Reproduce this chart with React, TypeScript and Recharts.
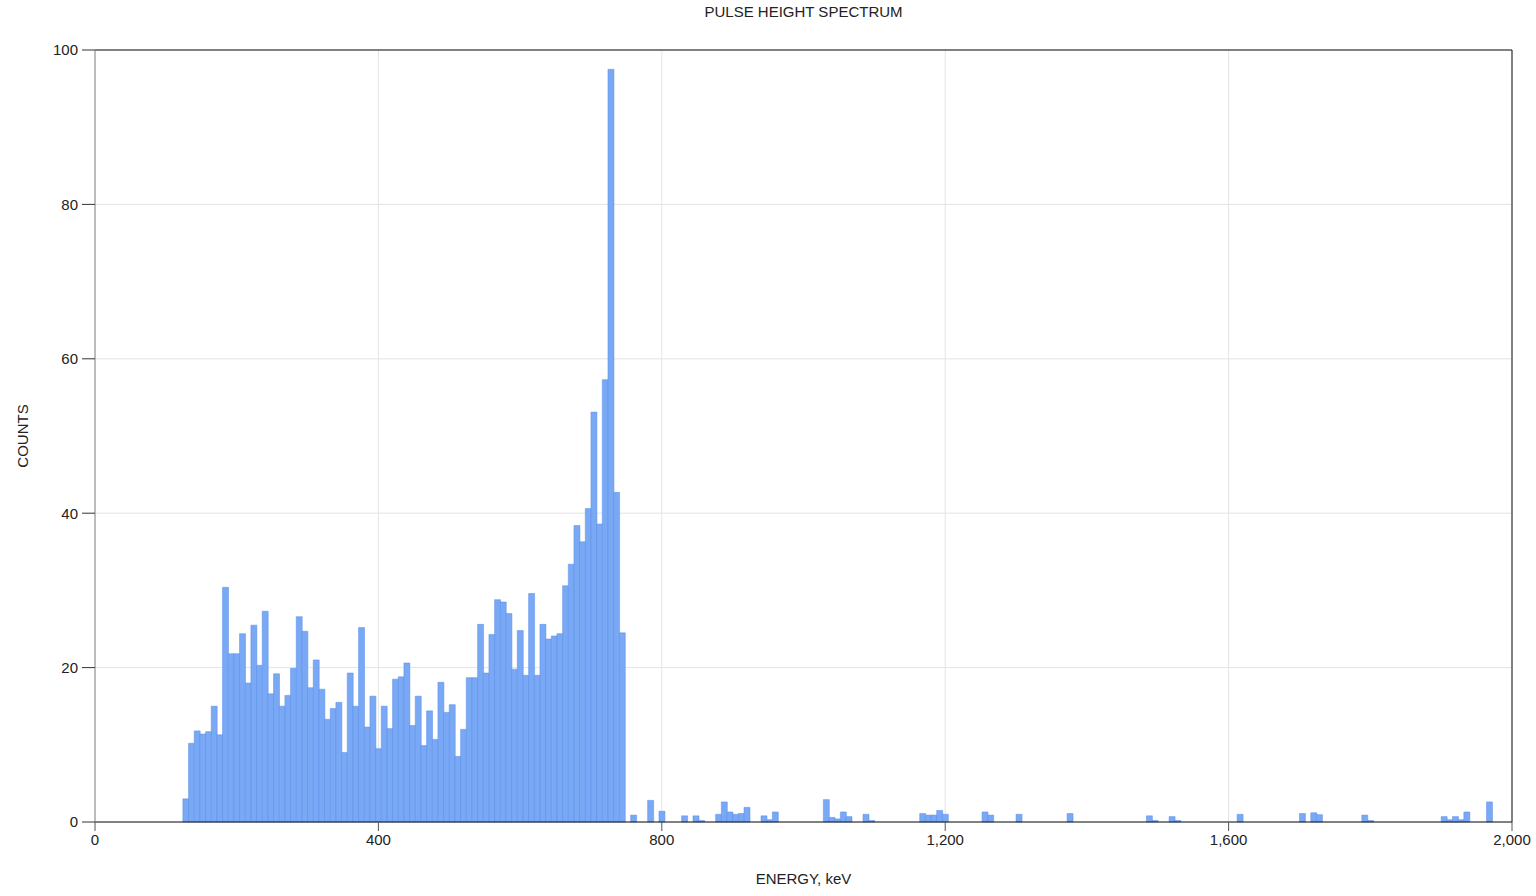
import React from 'react';
import { BarChart, Bar, XAxis, YAxis, CartesianGrid, ReferenceLine, Label } from 'recharts';

const TITLE = 'PULSE HEIGHT SPECTRUM';
const X_LABEL = 'ENERGY, keV';
const Y_LABEL = 'COUNTS';

const BIN_WIDTH = 8;
const MAIN_START = 124;

// Counts for consecutive 8 keV bins starting at 124 keV
const mainCounts = [
  3.0, 10.2, 11.8, 11.4, 11.7, 15.0, 11.3, 30.4, 21.8, 21.8,
  24.4, 18.0, 25.5, 20.3, 27.3, 16.6, 19.2, 15.0, 16.4, 19.9,
  26.6, 24.7, 17.4, 21.0, 17.2, 13.3, 14.7, 15.5, 9.0, 19.3,
  15.0, 25.2, 12.3, 16.3, 9.5, 15.0, 12.1, 18.5, 18.8, 20.6,
  12.5, 16.3, 9.9, 14.4, 10.7, 18.1, 14.2, 15.2, 8.5, 12.0,
  18.7, 18.7, 25.6, 19.3, 24.3, 28.8, 28.5, 27.0, 19.8, 24.8,
  19.0, 29.6, 19.0, 25.6, 23.7, 24.1, 24.4, 30.6, 33.4, 38.4,
  36.3, 40.6, 53.1, 38.6, 57.3, 97.5, 42.7, 24.5,
];

// Sparse high-energy bins (bin start energy, keV)
const tailBinStarts = [
  756, 780, 796, 828, 844, 852, 876, 884, 892, 900, 908, 916, 940, 948, 956,
  1028, 1036, 1044, 1052, 1060, 1084, 1092, 1164, 1172, 1180, 1188, 1196,
  1252, 1260, 1300, 1372, 1484, 1492, 1516, 1524, 1612, 1700, 1716, 1724,
  1788, 1796, 1900, 1908, 1916, 1924, 1932, 1964,
];
const tailCounts = [
  0.9, 2.8, 1.4, 0.8, 0.8, 0.2, 1.0, 2.6, 1.3, 1.0, 1.1, 1.9, 0.8, 0.3, 1.3,
  2.9, 0.6, 0.4, 1.3, 0.7, 1.0, 0.2, 1.1, 0.9, 0.9, 1.5, 1.0,
  1.3, 0.9, 1.0, 1.1, 0.8, 0.2, 0.7, 0.2, 1.0, 1.1, 1.2, 0.95,
  0.9, 0.2, 0.7, 0.3, 0.7, 0.3, 1.3, 2.6,
];

const xTicks = [0, 400, 800, 1200, 1600, 2000];
const yTicks = [0, 20, 40, 60, 80, 100];

const data = [
  ...mainCounts.map((c, i) => ({ energy: MAIN_START + i * BIN_WIDTH + BIN_WIDTH / 2, counts: c })),
  ...tailBinStarts.map((s, i) => ({ energy: s + BIN_WIDTH / 2, counts: tailCounts[i] })),
];

const FONT = 'Arial, "Liberation Sans", sans-serif';
const FS = 15;

const YLabel = (props: any) => {
  const vb = props.viewBox || { x: 0, y: 50, width: 95, height: 772 };
  const cx = vb.x + 22;
  const cy = vb.y + vb.height / 2;
  return (
    <text
      x={cx}
      y={cy}
      transform={`rotate(-90 ${cx} ${cy})`}
      textAnchor="middle"
      dominantBaseline="central"
      fontSize={FS}
      fontFamily={FONT}
      fill="#222"
    >
      {Y_LABEL}
    </text>
  );
};

export default function App() {
  return (
    <div style={{ position: 'absolute', left: 0, top: 0, width: 1536, height: 896, background: '#fff', fontFamily: FONT }}>
      <div
        style={{
          position: 'absolute',
          left: 95,
          width: 1417,
          top: 3,
          lineHeight: '18px',
          textAlign: 'center',
          fontSize: FS,
          color: '#222',
        }}
      >
        {TITLE}
      </div>
      <BarChart
        width={1536}
        height={896}
        data={data}
        margin={{ top: 50, right: 24, bottom: 0, left: 0 }}
        barCategoryGap={0}
        barGap={0}
      >
        <CartesianGrid stroke="#e4e4e4" strokeWidth={1} />
        <XAxis
          dataKey="energy"
          type="number"
          domain={[0, 2000]}
          ticks={xTicks}
          allowDataOverflow
          height={74}
          tickSize={9}
          tickMargin={3}
          tickFormatter={(v: number) => v.toLocaleString('en-US')}
          tick={{ fontSize: FS, fill: '#222', fontFamily: FONT }}
          stroke="#111"
          tickLine={{ stroke: '#555' }}
        >
          <Label value={X_LABEL} position="insideBottom" offset={12} fontSize={FS} fill="#222" fontFamily={FONT} />
        </XAxis>
        <YAxis
          type="number"
          domain={[0, 100]}
          ticks={yTicks}
          width={95}
          tickSize={13}
          tickMargin={4}
          tick={{ fontSize: FS, fill: '#222', fontFamily: FONT }}
          axisLine={{ stroke: '#888' }}
          tickLine={{ stroke: '#333' }}
        >
          <Label content={<YLabel />} />
        </YAxis>
        <ReferenceLine y={100} stroke="#111" strokeWidth={1} />
        <ReferenceLine x={2000} stroke="#111" strokeWidth={1} />
        <Bar
          dataKey="counts"
          fill="#79a8f5"
          stroke="#5a8fe8"
          strokeWidth={0.5}
          isAnimationActive={false}
        />
      </BarChart>
    </div>
  );
}
